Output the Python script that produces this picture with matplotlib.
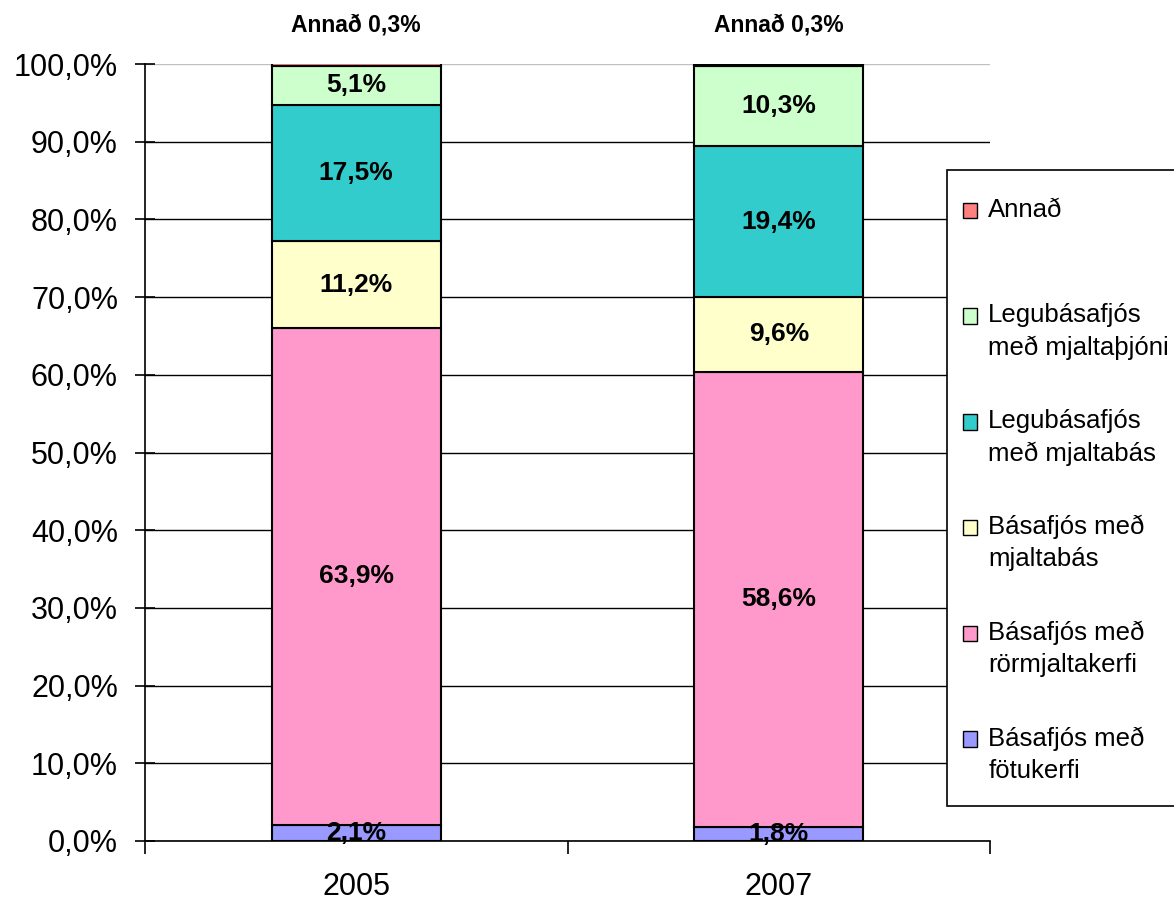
import matplotlib
matplotlib.use("Agg")
import matplotlib.pyplot as plt
import matplotlib.patches as mpatches
from matplotlib.legend_handler import HandlerPatch
import numpy as np
from matplotlib.ticker import FixedLocator, FuncFormatter

plt.rcParams['font.family'] = ['Liberation Sans', 'DejaVu Sans']

years = ["2005", "2007"]
series = ["Básafjós með\nfötukerfi", "Básafjós með\nrörmjaltakerfi", "Básafjós með\nmjaltabás",
          "Legubásafjós\nmeð mjaltabás", "Legubásafjós\nmeð mjaltaþjóni", "Annað"]
values = {
    "2005": [2.1, 63.9, 11.2, 17.5, 5.1, 0.3],
    "2007": [1.8, 58.6, 9.6, 19.4, 10.3, 0.3],
}
colors = ["#9999FF", "#FF99CC", "#FFFFCC", "#33CCCC", "#CCFFCC", "#FF8080"]

W, H = 1174, 902
fig = plt.figure(figsize=(W/100, H/100), dpi=100)
ax = fig.add_axes([145/W, 1-841/H, (990-145)/W, (841-64)/H])

x = np.arange(len(years))
bottoms = np.zeros(len(years))
for i, name in enumerate(series):
    vals = np.array([values[y][i] for y in years])
    ax.bar(x, vals, 0.4, bottom=bottoms, color=colors[i], edgecolor="black",
           linewidth=1.5, label=name, zorder=3)
    for xi, v, bt in zip(x, vals, bottoms):
        txt = f"{v:.1f}%".replace(".", ",")
        if i == len(series) - 1:
            ax.annotate("Annað " + txt, (xi, 100), xytext=(0, 28), textcoords="offset points",
                        ha="center", va="center", fontsize=16.5, fontweight="bold")
        else:
            ax.text(xi, bt + v/2, txt, ha="center", va="center", fontsize=19,
                    fontweight="bold", zorder=5)
    bottoms += vals

ax.set_xlim(-0.5, 1.5)
ax.set_ylim(0, 100)
ax.set_yticks(np.arange(0, 101, 10))
ax.yaxis.set_major_formatter(FuncFormatter(lambda v, p: f"{v:.1f}%".replace(".", ",")))
ax.set_xticks(x)
ax.set_xticklabels(years)
ax.xaxis.set_minor_locator(FixedLocator([-0.5, 0.5, 1.5]))
ax.tick_params(axis="x", which="major", length=0, labelsize=22, pad=22)
ax.tick_params(axis="x", which="minor", length=9, width=1.2, direction="out")
ax.tick_params(axis="y", which="major", length=14, width=1.2, direction="inout", labelsize=22, pad=12.5)

ax.grid(axis="y", color="black", linewidth=1.0, zorder=0)
ax.set_axisbelow(True)
gl = ax.get_ygridlines()
gl[-1].set_color("#c0c0c0")
for s in ["top", "right"]:
    ax.spines[s].set_visible(False)
ax.spines["left"].set_linewidth(1.2)
ax.spines["bottom"].set_linewidth(1.2)

# Legend frame drawn manually (box partly runs past the right edge)
frame = mpatches.Rectangle((947/W, 1-806/H), 240/W, (806-170)/H, transform=fig.transFigure,
                           fill=True, facecolor="white", edgecolor="black", linewidth=1.2,
                           zorder=4)
fig.patches.append(frame)

leg_labels = series[::-1]
leg_colors = colors[::-1]
fs = 18.5
# Excel spaces entries evenly: pad the single-line entry with an empty second line
disp_labels = [l if "\n" in l else l + "\n " for l in leg_labels]
proxies = []
hmap = {}
for lab, c in zip(disp_labels, leg_colors):
    p = mpatches.Patch(facecolor=c, edgecolor="black", linewidth=1.0)
    shift = 0.62 * fs
    def make(shift=shift):
        def f(legend, orig_handle, xdescent, ydescent, width, height, fontsize):
            return mpatches.Rectangle((-xdescent, -ydescent + shift), width, height)
        return f
    hmap[p] = HandlerPatch(patch_func=make())
    proxies.append(p)

leg = fig.legend(proxies, disp_labels, handler_map=hmap, loc="upper left",
                 bbox_to_anchor=(963/W, 1-198/H),
                 fontsize=fs, frameon=False,
                 labelspacing=1.92, handlelength=0.55, handleheight=0.55, handletextpad=0.43,
                 borderpad=0, borderaxespad=0)
leg.set_zorder(5)
for t in leg.get_texts():
    t.set_linespacing(1.42)

fig.savefig("out.png", dpi=100)
